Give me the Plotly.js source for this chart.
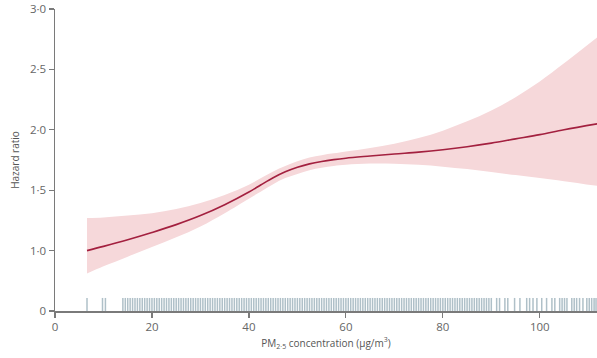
<!DOCTYPE html>
<html>
<head>
<meta charset="utf-8">
<script src="https://cdn.plot.ly/plotly-3.0.1.min.js"></script>
<style>html,body{margin:0;padding:0;background:#fff;}#chart{width:597px;height:358px;}</style>
</head>
<body>
<div id="chart"></div>
<script>
// PM2.5 concentration (µg/m³) grid for the spline
const pm = [6.6, 10, 15, 20, 25, 30, 35, 40, 42.5, 45, 47.5, 50, 52.5, 55, 57.5, 60, 65, 70, 75, 80, 85, 90, 95, 100, 105, 112];
// Hazard ratio estimate
const hr = [1.00, 1.035, 1.09, 1.15, 1.215, 1.29, 1.38, 1.485, 1.545, 1.603, 1.652, 1.690, 1.718, 1.738, 1.753, 1.765, 1.783, 1.80, 1.815, 1.835, 1.86, 1.89, 1.925, 1.96, 2.00, 2.05];
// 95% CI lower / upper
const lower = [0.81, 0.87, 0.95, 1.03, 1.11, 1.20, 1.31, 1.43, 1.49, 1.55, 1.60, 1.635, 1.665, 1.685, 1.70, 1.71, 1.72, 1.718, 1.71, 1.695, 1.675, 1.65, 1.625, 1.60, 1.575, 1.535];
const upper = [1.27, 1.275, 1.29, 1.31, 1.345, 1.395, 1.46, 1.545, 1.60, 1.655, 1.70, 1.74, 1.77, 1.79, 1.805, 1.82, 1.85, 1.885, 1.932, 1.993, 2.07, 2.16, 2.27, 2.40, 2.55, 2.77];
// Observed exposures (rug)
const rugValues = [6.6, 9.8, 10.4,
 14, 14.5, 15, 15.5, 16, 16.5, 17, 17.5, 18, 18.5, 19, 19.5, 20, 20.5, 21, 21.5, 22, 22.5, 23, 23.5, 24, 24.5, 25, 25.5, 26, 26.5, 27, 27.5, 28, 28.5, 29, 29.5,
 30, 30.5, 31, 31.5, 32, 32.5, 33, 33.5, 34, 34.5, 35, 35.5, 36, 36.5, 37, 37.5, 38, 38.5, 39, 39.5, 40, 40.5, 41, 41.5, 42, 42.5, 43, 43.5, 44, 44.5, 45, 45.5,
 46, 46.5, 47, 47.5, 48, 48.5, 49, 49.5, 50, 50.5, 51, 51.5, 52, 52.5, 53, 53.5, 54, 54.5, 55, 55.5, 56, 56.5, 57, 57.5, 58, 58.5, 59, 59.5, 60, 60.5, 61, 61.5,
 62, 62.5, 63, 63.5, 64, 64.5, 65, 65.5, 66, 66.5, 67, 67.5, 68, 68.5, 69, 69.5, 70, 70.5, 71, 71.5, 72, 72.5, 73, 73.5, 74, 74.5, 75, 75.5, 76, 76.5, 77, 77.5,
 78, 78.5, 79, 79.5, 80, 80.5, 81, 81.5, 82, 82.5, 83, 83.5, 84, 84.5, 85, 85.5, 86, 86.5, 87, 87.5, 88, 88.5, 89, 89.5, 90,
 91.1, 91.7, 92.8, 93.4, 94.8, 95.9, 97.3, 97.9, 98.6, 99.4, 100.4, 101.4, 102.5, 103.1, 104.1, 104.6, 105.1, 105.6, 106.6, 107.1, 107.6, 108.2, 108.9,
 109.7, 110.2, 110.7, 111.2, 111.6];
const yTickVals = [0.5, 1.0, 1.5, 2.0, 2.5, 3.0];
const yTickText = ['0', '1·0', '1·5', '2·0', '2·5', '3·0'];
const xTickVals = [0, 20, 40, 60, 80, 100];

const rugBase = 0.5, rugTop = 0.608;
const rugX = [], rugY = [];
rugValues.forEach(v => { rugX.push(v, v, null); rugY.push(rugBase, rugTop, null); });

const traces = [
  {x: pm, y: upper, type: 'scatter', mode: 'lines', line: {width: 0, shape: 'spline', smoothing: 1}, hoverinfo: 'skip', showlegend: false},
  {x: pm, y: lower, type: 'scatter', mode: 'lines', fill: 'tonexty', fillcolor: '#f6d8da', line: {width: 0, shape: 'spline', smoothing: 1}, hoverinfo: 'skip', showlegend: false},
  {x: rugX, y: rugY, type: 'scatter', mode: 'lines', line: {color: '#afc0c8', width: 1.5}, hoverinfo: 'skip', showlegend: false},
  {x: pm, y: hr, type: 'scatter', mode: 'lines', line: {color: '#a3203f', width: 1.6, shape: 'spline', smoothing: 1}, showlegend: false}
];

const layout = {
  width: 597, height: 358,
  margin: {l: 55, r: 0, t: 9, b: 47},
  paper_bgcolor: '#fff', plot_bgcolor: '#fff',
  font: {family: 'Open Sans, sans-serif', color: '#666', size: 11},
  showlegend: false,
  xaxis: {
    range: [0, 111.8], tickvals: xTickVals, showgrid: false, zeroline: false,
    showline: true, linecolor: '#7a7a7a', linewidth: 1.5,
    ticks: 'outside', ticklen: 5, tickcolor: '#7a7a7a', tickwidth: 1.2,
    tickfont: {size: 11.5, color: '#666'},
    title: {text: 'PM<sub>2·5</sub> concentration (μg/m<sup>3</sup>)', font: {size: 10, color: '#555'}, standoff: 6}
  },
  yaxis: {
    range: [0.5, 3.0], tickvals: yTickVals, ticktext: yTickText, showgrid: false, zeroline: false,
    showline: true, linecolor: '#7a7a7a', linewidth: 1.5,
    ticks: 'outside', ticklen: 5, tickcolor: '#7a7a7a', tickwidth: 1.2,
    tickfont: {size: 11.5, color: '#666'},
    title: {text: 'Hazard ratio', font: {size: 10, color: '#555'}, standoff: 8}
  }
};

Plotly.newPlot('chart', traces, layout, {displayModeBar: false, staticPlot: true});
</script>
</body>
</html>
